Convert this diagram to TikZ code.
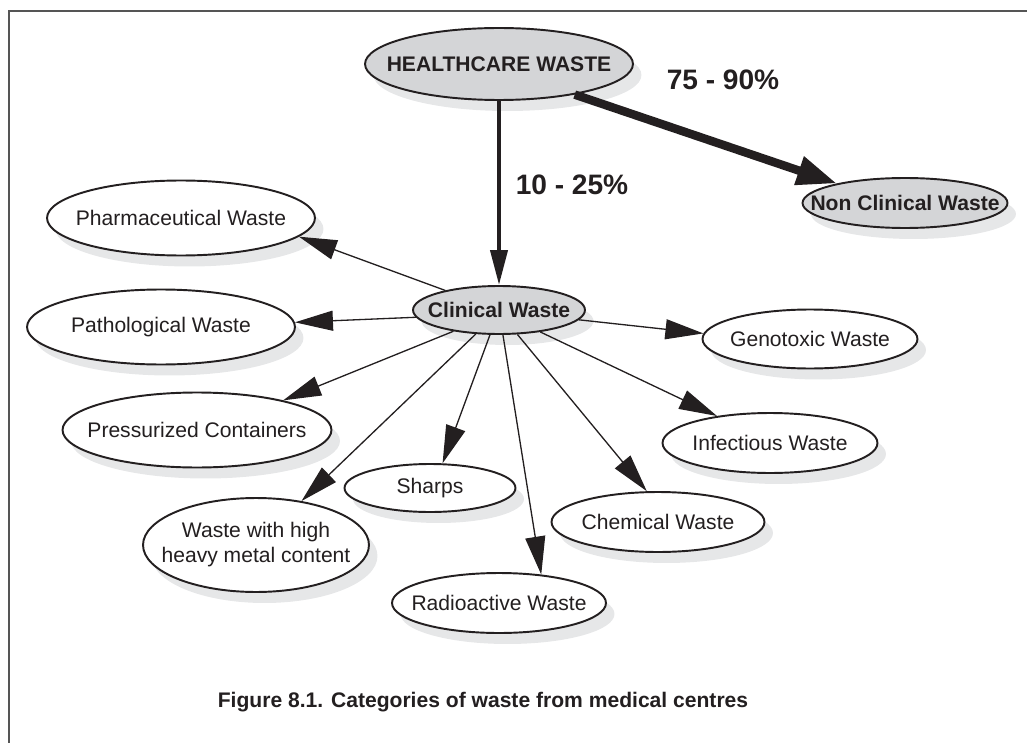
\documentclass[tikz,border=0pt]{standalone}
\usepackage{fontspec}
\setmainfont{Liberation Sans}
\usetikzlibrary{shapes.geometric,shadows,arrows.meta}
\definecolor{ink}{HTML}{231F20}
\definecolor{wastegray}{HTML}{D4D5D7}
\definecolor{shadowgray}{HTML}{E6E7E8}
\definecolor{framegray}{HTML}{555555}
% text inside an ellipse, kept from widening it
\newcommand{\wname}[1]{\makebox[0pt]{#1}}
\begin{document}
\begin{tikzpicture}[x=0.02cm,y=-0.02cm,
    wastebase/.style={draw=ink, ellipse, line width=1.1pt, inner sep=0pt,
      text=ink, drop shadow={shadow xshift=0.17cm, shadow yshift=-0.22cm,
      fill=shadowgray, opacity=1}},
    mainwaste/.style={wastebase, fill=wastegray,
      font=\fontsize{12}{14}\selectfont\bfseries},
    subwaste/.style={wastebase, fill=white, font=\fontsize{12}{14}\selectfont},
    feed/.style={draw=ink, line width=0.75pt,
      -{Triangle[length=0.76cm,width=0.4cm]}},
    pct/.style={text=ink, font=\fontsize{16}{18}\selectfont\bfseries},
    caption/.style={text=ink, font=\fontsize{12}{14}\selectfont\bfseries}]
  \useasboundingbox (0,0) rectangle (1027,743);
  \draw[framegray, line width=0.04cm] (1027,11) -- (9,11) -- (9,743);

  \node[mainwaste, minimum width=5.36cm, minimum height=1.44cm]
    (hw) at (499,64) {\wname{HEALTHCARE WASTE}};
  \node[mainwaste, minimum width=3.44cm, minimum height=0.96cm]
    (clin) at (499,310) {\wname{Clinical Waste}};
  \node[mainwaste, minimum width=4.1cm, minimum height=1.0cm]
    (nonclin) at (905,203) {\wname{Non Clinical Waste}};

  \node[subwaste, minimum width=5.36cm, minimum height=1.5cm]
    (pharm) at (181,218) {\wname{Pharmaceutical Waste}};
  \node[subwaste, minimum width=5.36cm, minimum height=1.5cm]
    (patho) at (161,327) {\wname{Pathological Waste}};
  \node[subwaste, minimum width=5.38cm, minimum height=1.5cm]
    (press) at (197,430) {\wname{Pressurized Containers}};
  \node[subwaste, minimum width=4.52cm, minimum height=1.88cm]
    (metal) at (256,545)
    {\wname{\begin{tabular}{@{}c@{}}Waste with high\\heavy metal content\end{tabular}}};
  \node[subwaste, minimum width=3.42cm, minimum height=0.96cm]
    (sharps) at (430,488) {\wname{Sharps}};
  \node[subwaste, minimum width=4.28cm, minimum height=1.2cm]
    (radio) at (499,603) {\wname{Radioactive Waste}};
  \node[subwaste, minimum width=4.26cm, minimum height=1.2cm]
    (chem) at (658,522) {\wname{Chemical Waste}};
  \node[subwaste, minimum width=4.3cm, minimum height=1.2cm]
    (infect) at (770,443) {\wname{Infectious Waste}};
  \node[subwaste, minimum width=4.3cm, minimum height=1.18cm]
    (geno) at (810,339) {\wname{Genotoxic Waste}};

  % main split
  \draw[draw=ink, line width=0.08cm,
    -{Triangle[length=0.7cm,width=0.34cm]}] (hw) -- (clin);
  \draw[draw=ink, line width=0.17cm,
    -{Triangle[length=0.8cm,width=0.56cm]}] (hw.338) -- (nonclin.164);
  \node[pct] (lowpct) at (572,185) {10 - 25\%};
  \node[pct] (highpct) at (723,80) {75 - 90\%};

  % clinical waste categories
  \foreach \from/\to/\at in {160/pharm/351, 185/patho/2, 205/press/19,
      226/metal/44, 250/sharps/63, 279/radio/34, 307/chem/110,
      332/infect/153, 353/geno/177}
    \draw[feed] (clin.\from) -- (\to.\at);

  \node[caption] (cap) at (483,702)
    {Figure 8.1. Categories of waste from medical centres};
\end{tikzpicture}
\end{document}
